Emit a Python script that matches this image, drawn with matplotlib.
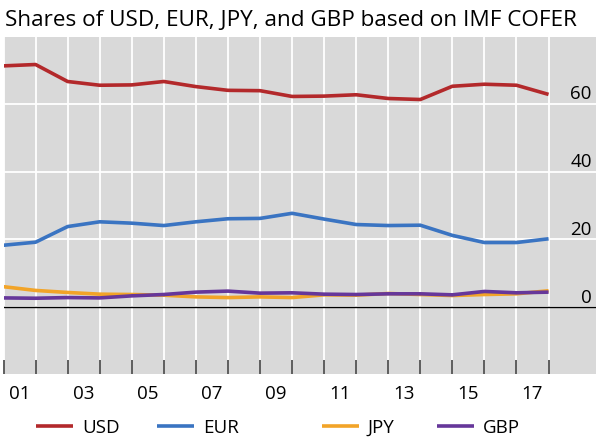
import numpy as np
import matplotlib
matplotlib.use("Agg")
import matplotlib.pyplot as plt
from matplotlib.transforms import ScaledTranslation

plt.rcParams['font.family'] = ['Open Sans', 'DejaVu Sans']

# end-of-year shares (%), 2000 to 2017
years = list(range(2000, 2018))
usd = [71.1, 71.5, 66.5, 65.4, 65.5, 66.5, 65.0, 63.9, 63.8, 62.1, 62.2, 62.6, 61.5, 61.2, 65.1, 65.7, 65.4, 62.7]
eur = [18.3, 19.2, 23.8, 25.2, 24.8, 24.1, 25.2, 26.1, 26.2, 27.7, 26.0, 24.4, 24.1, 24.2, 21.2, 19.1, 19.1, 20.2]
jpy = [6.1, 5.0, 4.4, 3.9, 3.8, 3.6, 3.1, 2.9, 3.1, 2.9, 3.7, 3.6, 4.1, 3.8, 3.5, 3.8, 4.0, 4.9]
gbp = [2.8, 2.7, 2.9, 2.8, 3.4, 3.8, 4.5, 4.8, 4.2, 4.3, 3.9, 3.8, 4.0, 4.0, 3.7, 4.7, 4.3, 4.5]
year_labels = ["01", "03", "05", "07", "09", "11", "13", "15", "17"]
y_ticks = [0, 20, 40, 60]

series = [("USD", usd, "#B3292B"), ("EUR", eur, "#3A74C2"),
          ("JPY", jpy, "#F2A428"), ("GBP", gbp, "#66379A")]

fig = plt.figure(figsize=(6, 4.45), dpi=100)
ax = fig.add_axes([3.5/600, 1-374/445, 592.5/600, 337/445])
ax.set_facecolor("#D9D9D9")

x = np.arange(len(years))
handles = []
for name, vals, col in series:
    ln, = ax.plot(x, vals, color=col, lw=2.6, solid_capstyle="butt", zorder=3)
    handles.append(ln)

ax.set_xlim(0, 18.48)
ax.set_ylim(-19.6, 79.6)

ax.set_xticks(x)
ax.set_xticklabels([])
ax.set_xticks(np.arange(len(year_labels)) * 2 + 0.5, minor=True)
ax.set_xticklabels(year_labels, minor=True)
ax.tick_params(axis="x", which="major", direction="in", length=10, width=1.1,
               color="#333333")
ax.tick_params(axis="x", which="minor", length=0, pad=8, labelsize=13.5)
ax.grid(axis="x", which="major", color="white", lw=1.3)

ax.yaxis.tick_right()
ax.set_yticks(y_ticks)
ax.tick_params(axis="y", length=0, pad=-3, labelsize=13.5)
for lab in ax.get_yticklabels():
    lab.set_horizontalalignment("right")
    lab.set_transform(lab.get_transform() + ScaledTranslation(0, 0.115, fig.dpi_scale_trans))
ax.grid(axis="y", color="white", lw=1.3)
ax.set_axisbelow(True)
ax.axhline(0, color="black", lw=1.0, zorder=2)

for s in ax.spines.values():
    s.set_visible(False)

fig.text(5/600, 1-21/445, "Shares of USD, EUR, JPY, and GBP based on IMF COFER",
         fontsize=16.2, va="center", ha="left")

leg_x = [36, 157, 322, 437]
for h, (name, _, _), lx in zip(handles, series, leg_x):
    fig.legend([h], [name], loc="center left", bbox_to_anchor=(lx/600, 1-428/445),
               frameon=False, fontsize=13.5, handlelength=1.95, handletextpad=0.5,
               borderpad=0, borderaxespad=0)

fig.savefig("out.png", dpi=100)
